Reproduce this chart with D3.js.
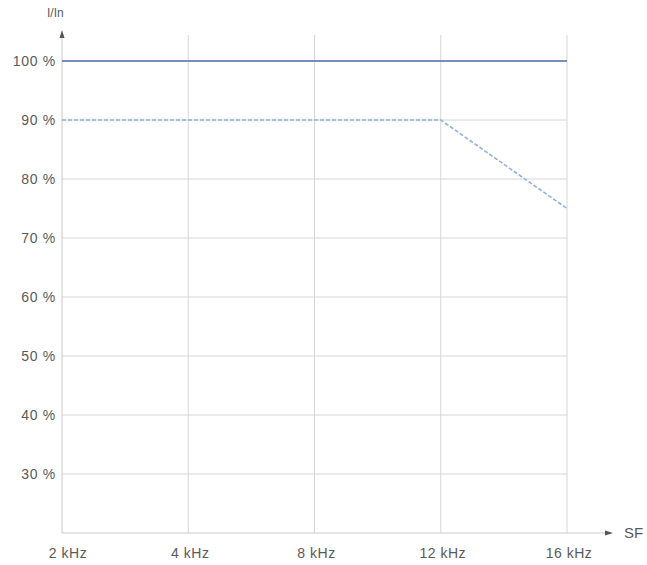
<!DOCTYPE html>
<html>
<head>
<meta charset="utf-8">
<script src="https://cdn.jsdelivr.net/npm/d3@7"></script>
<style>
  body { margin: 0; background: #fff; }
  text { font-family: "Liberation Sans", Arial, sans-serif; }
</style>
</head>
<body>
<script>
// 数据
const freqs = ['2 kHz', '4 kHz', '8 kHz', '12 kHz', '16 kHz'];
const ratedSeries = [100, 100, 100, 100, 100];
const deratedSeries = [90, 90, 90, 90, 75];
const yTicks = [30, 40, 50, 60, 70, 80, 90, 100];

const width = 647, height = 565;
const svg = d3.select('body').append('svg')
    .attr('width', width)
    .attr('height', height);

// 比例尺
const x = d3.scalePoint().domain(freqs).range([62, 567]);
const y = d3.scaleLinear().domain([20, 100]).range([533, 61]);

const grid = svg.append('g');
// 水平网格线
grid.selectAll('line.h')
    .data(yTicks)
    .enter().append('line')
    .attr('x1', 62).attr('x2', 567)
    .attr('y1', d => y(d)).attr('y2', d => y(d))
    .attr('stroke', '#d6d6d6').attr('stroke-width', 1);
// 垂直网格线
grid.selectAll('line.v')
    .data(freqs.slice(1))
    .enter().append('line')
    .attr('x1', d => x(d)).attr('x2', d => x(d))
    .attr('y1', 35).attr('y2', y(20))
    .attr('stroke', '#d6d6d6').attr('stroke-width', 1);

// 坐标轴
svg.append('line')
    .attr('x1', 62).attr('x2', 62).attr('y1', y(20)).attr('y2', 38)
    .attr('stroke', '#cacaca');
svg.append('path')
    .attr('d', 'M62,30 L59.5,38 L64.5,38 Z').attr('fill', '#555');
svg.append('line')
    .attr('x1', 62).attr('x2', 606).attr('y1', y(20)).attr('y2', y(20))
    .attr('stroke', '#cacaca');
svg.append('path')
    .attr('d', `M613,${y(20)} L605,${y(20) - 2.5} L605,${y(20) + 2.5} Z`).attr('fill', '#555');

// 刻度标签
svg.selectAll('text.ylab')
    .data(yTicks)
    .enter().append('text')
    .attr('x', 56).attr('y', d => y(d) + 5)
    .attr('text-anchor', 'end')
    .attr('font-size', 14).attr('letter-spacing', 0.7).attr('fill', '#5a5a5a')
    .text(d => d + ' %');
svg.selectAll('text.xlab')
    .data(freqs)
    .enter().append('text')
    .attr('x', (d, i) => x(d) + (i === 0 ? 6 : 2)).attr('y', 558)
    .attr('text-anchor', 'middle')
    .attr('font-size', 14).attr('letter-spacing', 0.5).attr('fill', '#5a5a5a')
    .text(d => d);

svg.append('text').attr('x', 47).attr('y', 17)
    .attr('font-size', 12).attr('fill', '#5a5a5a').text('I/In');
svg.append('text').attr('x', 624).attr('y', y(20) + 5)
    .attr('font-size', 15).attr('fill', '#5a5a5a').text('SF');

// 曲线
const line = d3.line()
    .x((d, i) => x(freqs[i]))
    .y(d => y(d));

svg.append('path')
    .datum(deratedSeries)
    .attr('d', line)
    .attr('fill', 'none')
    .attr('stroke', '#8fb3dc')
    .attr('stroke-width', 1.6)
    .attr('stroke-dasharray', '4,2');

svg.append('path')
    .datum(ratedSeries)
    .attr('d', line)
    .attr('fill', 'none')
    .attr('stroke', '#4f72a8')
    .attr('stroke-width', 1.6);
</script>
</body>
</html>
